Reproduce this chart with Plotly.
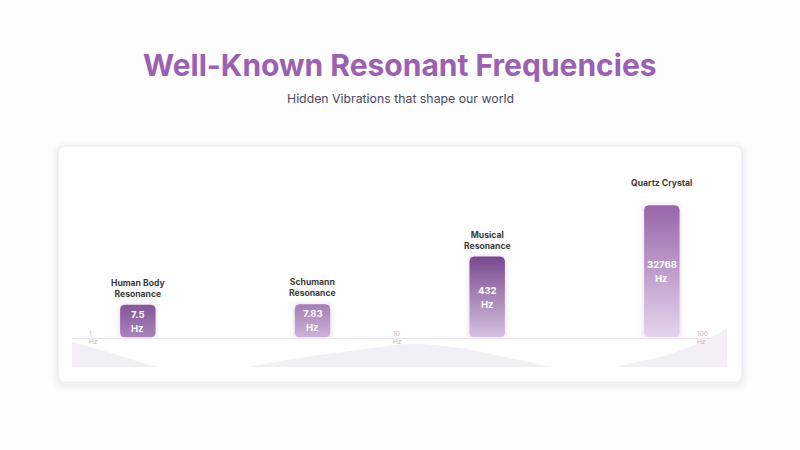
import numpy as np
import plotly.graph_objects as go

# ---------------- data ----------------
categories = ["Human Body<br>Resonance", "Schumann<br>Resonance", "Musical<br>Resonance", "Quartz Crystal<br>&#160;"]
frequencies = [7.5, 7.83, 432, 32768]
value_labels = ["7.5", "7.83", "432", "32768"]
unit_label = "Hz"
tick_values = [1, 10, 100]
tick_labels = ["1<br>Hz", "10<br>Hz", "100<br>Hz"]

# decorative wave (x in category units, relative height 0..1)
wave_x = [-0.377, -0.131, 0.110, 0.385, 0.642, 0.929, 1.272, 1.559, 1.845, 2.131, 2.360, 2.560, 2.743, 3.030, 3.219, 3.373]
wave_h = [0.64, 0.33, 0.0, -0.35, 0.0, 0.23, 0.44, 0.59, 0.49, 0.23, 0.0, -0.30, 0.0, 0.31, 0.62, 1.0]

# ---------------- styles ----------------
bar_top_colors = ["#83559a", "#a47eb6", "#774a8e", "#9866ab"]
bar_bottom_colors = ["#a985ba", "#ccb2d8", "#d6c2e1", "#e4d5ec"]
W, H = 800, 450
X_DOM = [72 / W, 727 / W]
Y_DOM = [1 - 337.5 / H, 1 - 135 / H]
X_RANGE = [-0.377, 3.373]
PX_PER_UNIT = (X_DOM[1] - X_DOM[0]) * W / (X_RANGE[1] - X_RANGE[0])
PX_PER_DEC = 27.3
Y_LO = np.log10(0.47)
Y_HI = Y_LO + (Y_DOM[1] - Y_DOM[0]) * H / PX_PER_DEC
BAR_W = 0.203
R_PX = 4.5

fig = go.Figure()

def rounded_bar(xc, y0, y1, r_px):
    rx = r_px / PX_PER_UNIT
    ry = r_px / PX_PER_DEC
    x0, x1 = xc - BAR_W / 2, xc + BAR_W / 2
    xs, ys = [], []
    corners = [
        (x1 - rx, y1 - ry, 0, 90),
        (x0 + rx, y1 - ry, 90, 180),
        (x0 + rx, y0 + ry, 180, 270),
        (x1 - rx, y0 + ry, 270, 360),
    ]
    for cx, cy, a0, a1 in corners:
        for a in np.linspace(np.radians(a0), np.radians(a1), 8):
            xs.append(cx + rx * np.cos(a))
            ys.append(cy + ry * np.sin(a))
    xs.append(xs[0]); ys.append(ys[0])
    return xs, [10 ** v for v in ys]

# wave
fig.add_trace(go.Scatter(
    x=wave_x, y=wave_h, xaxis="x", yaxis="y3", mode="lines",
    line=dict(width=0, shape="spline", smoothing=1.0), fill="tozeroy",
    fillcolor="#f4eef7", hoverinfo="skip", showlegend=False))

# bars
for i, f in enumerate(frequencies):
    top = np.log10(f)
    # soft glow
    for w, a in [(10, 0.025), (6, 0.035), (3, 0.045)]:
        gx, gy = rounded_bar(i, Y_LO, top, R_PX)
        fig.add_trace(go.Scatter(x=gx, y=gy, mode="lines",
                                 line=dict(color=f"rgba(150,100,175,{a})", width=w),
                                 hoverinfo="skip", showlegend=False))
    bx, by = rounded_bar(i, Y_LO, top, R_PX)
    fig.add_trace(go.Scatter(
        x=bx, y=by, mode="lines", line=dict(width=0), fill="toself",
        fillgradient=dict(type="vertical",
                          colorscale=[[0, bar_bottom_colors[i]], [1, bar_top_colors[i]]]),
        hoverinfo="skip", showlegend=False))

annotations = []
for i, f in enumerate(frequencies):
    top = np.log10(f)
    mid = (top + Y_LO) / 2
    annotations.append(dict(x=i, y=mid, xref="x", yref="y", text=f"<b>{value_labels[i]}</b>",
                            showarrow=False, yanchor="middle", yshift=7,
                            font=dict(family="Inter", size=9.5, color="white")))
    annotations.append(dict(x=i, y=mid, xref="x", yref="y", text=f"<b>{unit_label}</b>",
                            showarrow=False, yanchor="middle", yshift=-7,
                            font=dict(family="Inter", size=9.5, color="white")))
    annotations.append(dict(x=i, y=top, xref="x", yref="y", text=f"<b>{categories[i]}</b>",
                            showarrow=False, yanchor="bottom", yshift=4,
                            font=dict(family="Inter", size=8.6, color="#3a3a3a")))

for tv, tl in zip(tick_values, tick_labels):
    annotations.append(dict(x=np.log10(tv), y=Y_DOM[0], xref="x2", yref="paper", text=tl,
                            showarrow=False, yanchor="middle", xanchor="center", align="left",
                            font=dict(family="Inter", size=6.5, color="#bdb5c6")))

annotations.append(dict(x=0.5, y=1 - 65 / H, xref="paper", yref="paper",
                        text="<b>Well-Known Resonant Frequencies</b>", showarrow=False,
                        xanchor="center", yanchor="middle",
                        font=dict(family="Inter", size=30, color="#9b61b1")))
annotations.append(dict(x=0.5, y=1 - 99 / H, xref="paper", yref="paper",
                        text="Hidden Vibrations that shape our world", showarrow=False,
                        xanchor="center", yanchor="middle",
                        font=dict(family="Inter", size=12.3, color="#4b4b5c")))

# card + shadow
def rrect(x0, y0, x1, y1, r):
    X0, X1 = x0 / W, x1 / W
    Y0, Y1 = 1 - y1 / H, 1 - y0 / H
    rx, ry = r / W, r / H
    return (f"M {X0+rx},{Y1} L {X1-rx},{Y1} Q {X1},{Y1} {X1},{Y1-ry} L {X1},{Y0+ry} "
            f"Q {X1},{Y0} {X1-rx},{Y0} L {X0+rx},{Y0} Q {X0},{Y0} {X0},{Y0+ry} "
            f"L {X0},{Y1-ry} Q {X0},{Y1} {X0+rx},{Y1} Z")

shapes = []
for d in [7, 5, 3, 1.5]:
    shapes.append(dict(type="path", xref="paper", yref="paper", layer="below",
                       path=rrect(58 - d, 146 - d + 2, 742 + d, 382 + d + 2, 8 + d),
                       fillcolor="rgba(80,60,100,0.015)", line=dict(width=0)))
shapes.append(dict(type="path", xref="paper", yref="paper", layer="below",
                   path=rrect(58, 146, 742, 382, 8), fillcolor="white",
                   line=dict(color="#efebf2", width=1)))

fig.update_layout(
    width=W, height=H, margin=dict(l=0, r=0, t=0, b=0),
    paper_bgcolor="#fdfdfe", plot_bgcolor="rgba(0,0,0,0)",
    showlegend=False, shapes=shapes, annotations=annotations,
    xaxis=dict(domain=X_DOM, range=X_RANGE, showgrid=False, zeroline=False,
               showticklabels=False, showline=True, linecolor="#ece6f0", linewidth=1,
               anchor="y", fixedrange=True),
    xaxis2=dict(domain=X_DOM, type="log", range=[-0.069, 2.082], overlaying="x",
                showgrid=False, zeroline=False, showticklabels=False, showline=False,
                anchor="y"),
    yaxis=dict(domain=Y_DOM, type="log", range=[Y_LO, Y_HI], showgrid=False,
               zeroline=False, showticklabels=False, showline=False, anchor="x"),
    yaxis3=dict(domain=[1 - 367 / H, 1 - 328 / H], range=[0, 1], showgrid=False,
                zeroline=False, showticklabels=False, showline=False, anchor="x"),
)

fig.write_html("out.html")
